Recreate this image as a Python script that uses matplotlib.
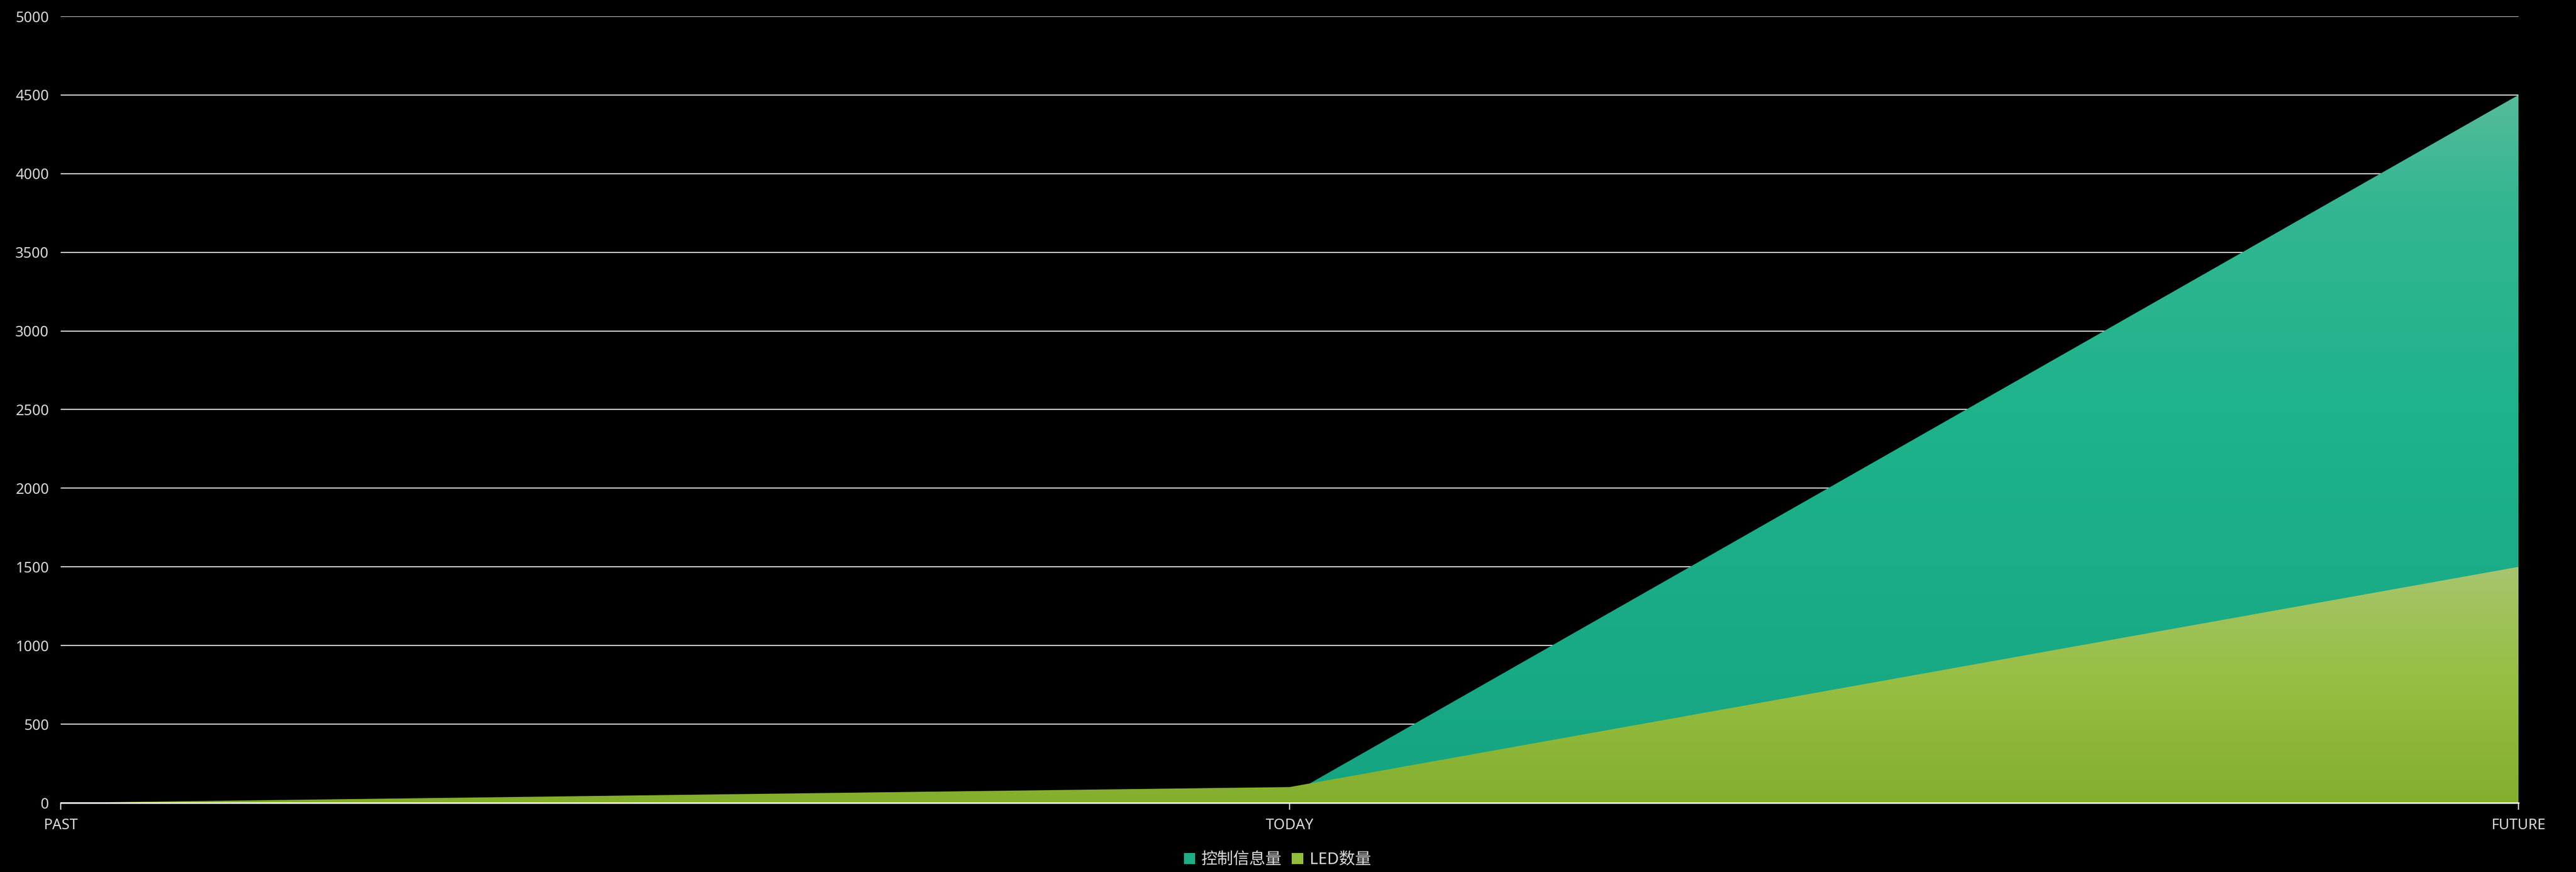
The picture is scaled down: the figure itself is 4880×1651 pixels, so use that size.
import numpy as np
import matplotlib
matplotlib.use("Agg")
import matplotlib.pyplot as plt
from matplotlib.colors import LinearSegmentedColormap
from matplotlib.patches import Patch

plt.rcParams["font.family"] = ["Noto Sans", "Noto Sans CJK SC", "DejaVu Sans"]

categories = ["PAST", "TODAY", "FUTURE"]
control_info = [0, 50, 4500]   # 控制信息量
led_count = [0, 100, 1500]     # LED数量
series_names = ["控制信息量", "LED数量"]
y_ticks = [0, 500, 1000, 1500, 2000, 2500, 3000, 3500, 4000, 4500, 5000]

TEAL_CMAP = LinearSegmentedColormap.from_list(
    "teal", [(0, "#15a482"), (0.55, "#1eb38b"), (0.85, "#33b691"), (1, "#55bb9b")])
GREEN_CMAP = LinearSegmentedColormap.from_list(
    "green", [(0, "#84ae2e"), (0.5, "#96be42"), (0.8, "#a0c25a"), (1, "#a8c56f")])

W, H, DPI = 4880, 1651, 100
fig = plt.figure(figsize=(W / DPI, H / DPI), dpi=DPI, facecolor="black")
ax = fig.add_axes([115 / W, (H - 1520) / H, (4771 - 115) / W, (1520 - 31) / H])
ax.set_facecolor("black")

x = np.arange(len(categories))


def gradient_area(ax, x, y, cmap, zorder):
    poly = ax.fill_between(x, 0, y, facecolor="none", edgecolor="none", zorder=zorder)
    grad = np.linspace(0, 1, 256).reshape(-1, 1)
    im = ax.imshow(grad, cmap=cmap, origin="lower", aspect="auto",
                   extent=[x.min(), x.max(), 0, max(y)], zorder=zorder,
                   interpolation="bilinear")
    im.set_clip_path(poly.get_paths()[0], transform=ax.transData)
    return poly


gradient_area(ax, x, control_info, TEAL_CMAP, zorder=2)
gradient_area(ax, x, led_count, GREEN_CMAP, zorder=3)

ax.set_xlim(0, len(categories) - 1)
ax.set_ylim(0, 5000)
ax.set_yticks(y_ticks)
ax.set_xticks(x)
ax.set_xticklabels(categories)

ax.grid(axis="y", color="#d9d9d9", linewidth=1.5, zorder=1)
ax.set_axisbelow(True)
for s in ["top", "right", "left"]:
    ax.spines[s].set_visible(False)
ax.spines["bottom"].set_color("#ffffff")
ax.spines["bottom"].set_linewidth(2)
ax.spines["bottom"].set_zorder(5)

ax.tick_params(axis="x", colors="#ffffff", length=9, width=1.5, pad=12,
               labelsize=20, labelcolor="#d9d9d9")
ax.tick_params(axis="y", length=0, pad=16, labelsize=20, labelcolor="#d9d9d9")

handles = [Patch(facecolor="#1fae88", edgecolor="none"),
           Patch(facecolor="#93bd3e", edgecolor="none")]
fig.legend(handles, series_names, loc="center", bbox_to_anchor=(2420 / W, (H - 1628) / H),
           ncol=2, frameon=False, fontsize=22, labelcolor="#d9d9d9",
           handlelength=0.7, handleheight=0.7, handletextpad=0.4, columnspacing=0.6,
           borderpad=0, borderaxespad=0)

fig.savefig("out.png", dpi=DPI, facecolor="black")
